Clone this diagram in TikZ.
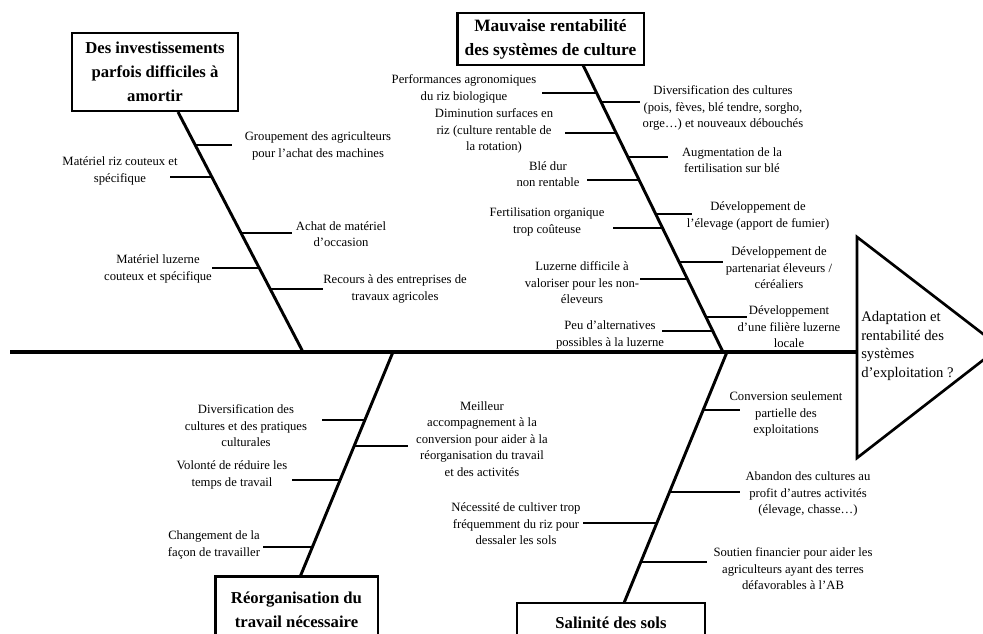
\documentclass[tikz,border=0pt]{standalone}
\usepackage{fontspec}
\setmainfont{Liberation Serif}
\usetikzlibrary{calc}
\def\fs#1#2{\fontsize{#1}{#2}\selectfont}

\begin{document}
\begin{tikzpicture}[x=0.75pt,y=-0.75pt,
		cause/.style={draw,line width=2pt,align=center,inner sep=0pt,font=\bfseries\fs{12.5}{18}},
		item/.style={align=center,inner sep=1pt,font=\fs{9.5}{12.4}},
		spine/.style={line width=3pt},
		bone/.style={line width=2.2pt},
		twig/.style={line width=1.4pt}]
			%%%%% START %%%%%
			\useasboundingbox (0,0) rectangle (983,634);
			
			% head
			\coordinate (tail) at (10,352);
			\coordinate (head) at (857,352);
			\draw[line width=2pt, line join=miter] (857,237) -- (1000,347) -- (857,458) -- cycle;
			\node[anchor=west, align=left, inner sep=0pt, font=\fs{11}{14}] (goal) at (861,346)
				{Adaptation et\\rentabilité des\\systèmes\\d'exploitation ?};
			\draw[spine] (tail) -- (head);
			
			% causes
			\node[cause, minimum width=124.5pt, minimum height=58.5pt] (inv) at (155,72)
				{Des investissements\\parfois difficiles à\\amortir};
			\node[cause, minimum width=140pt, minimum height=39pt, font=\bfseries\fs{13}{18}] (rent) at (550.5,39)
				{Mauvaise rentabilité\\des systèmes de culture};
			\node[cause, minimum width=122pt, minimum height=50pt] (trav) at (296.5,610)
				{Réorganisation du\\travail nécessaire};
			\node[cause, minimum width=141pt, minimum height=30pt] (sal) at (611,623)
				{Salinité des sols};
			
			\coordinate (b1a) at (178,112);
			\coordinate (b1b) at (303,352);
			\coordinate (b2a) at (583,65);
			\coordinate (b2b) at (723,352);
			\coordinate (b3a) at (393,352);
			\coordinate (b3b) at (300,577);
			\coordinate (b4a) at (727,352);
			\coordinate (b4b) at (624,603);
			\draw[bone] (b1a) -- (b1b);
			\draw[bone] (b2a) -- (b2b);
			\draw[bone] (b3a) -- (b3b);
			\draw[bone] (b4a) -- (b4b);
			
			% investissements
			\draw[twig] ($(b1a)!0.1375!(b1b)$) -- ++(37,0);
			\draw[twig] ($(b1a)!0.271!(b1b)$) -- ++(-42,0);
			\draw[twig] ($(b1a)!0.504!(b1b)$) -- ++(51,0);
			\draw[twig] ($(b1a)!0.65!(b1b)$) -- ++(-47,0);
			\draw[twig] ($(b1a)!0.7375!(b1b)$) -- ++(53,0);
			\node[item] (grp) at (318,146) {Groupement des agriculteurs\\pour l’achat des machines};
			\node[item] (riz) at (120,171) {Matériel riz couteux et\\spécifique};
			\node[item] (occ) at (341,234) {Achat de matériel\\d'occasion};
			\node[item] (luz) at (158,269) {Matériel luzerne\\couteux et spécifique};
			\node[item] (ent) at (395,289) {Recours à des entreprises de\\travaux agricoles};
			
			% rentabilite
			\draw[twig] ($(b2a)!0.0976!(b2b)$) -- ++(-55,0);
			\draw[twig] ($(b2a)!0.129!(b2b)$) -- ++(39,0);
			\draw[twig] ($(b2a)!0.237!(b2b)$) -- ++(-51,0);
			\draw[twig] ($(b2a)!0.3206!(b2b)$) -- ++(40,0);
			\draw[twig] ($(b2a)!0.4007!(b2b)$) -- ++(-52,0);
			\draw[twig] ($(b2a)!0.519!(b2b)$) -- ++(36,0);
			\draw[twig] ($(b2a)!0.568!(b2b)$) -- ++(-50,0);
			\draw[twig] ($(b2a)!0.686!(b2b)$) -- ++(44,0);
			\draw[twig] ($(b2a)!0.7456!(b2b)$) -- ++(-47,0);
			\draw[twig] ($(b2a)!0.878!(b2b)$) -- ++(41,0);
			\draw[twig] ($(b2a)!0.9268!(b2b)$) -- ++(-51,0);
			\node[item] (perf) at (464,89) {Performances agronomiques\\du riz biologique};
			\node[item] (div) at (723,108) {Diversification des cultures\\(pois, fèves, blé tendre, sorgho,\\orge…) et nouveaux débouchés};
			\node[item] (dim) at (494,131) {Diminution surfaces en\\riz (culture rentable de\\la rotation)};
			\node[item] (aug) at (732,160) {Augmentation de la\\fertilisation sur blé};
			\node[item] (ble) at (548,174) {Blé dur\\non rentable};
			\node[item] (elev) at (758,216) {Développement de\\l'élevage (apport de fumier)};
			\node[item] (fert) at (547,222) {Fertilisation organique\\trop coûteuse};
			\node[item] (part) at (779,268) {Développement de\\partenariat éleveurs /\\céréaliers};
			\node[item] (valo) at (582,283) {Luzerne difficile à\\valoriser pour les non-\\éleveurs};
			\node[item] (fil) at (789,327) {Développement\\d’une filière luzerne\\locale};
			\node[item] (alt) at (610,335) {Peu d’alternatives\\possibles à la luzerne};
			
			% travail
			\draw[twig] ($(b3a)!0.302!(b3b)$) -- ++(-43,0);
			\draw[twig] ($(b3a)!0.418!(b3b)$) -- ++(54,0);
			\draw[twig] ($(b3a)!0.569!(b3b)$) -- ++(-48,0);
			\draw[twig] ($(b3a)!0.8667!(b3b)$) -- ++(-49,0);
			\node[item] (prat) at (246,426) {Diversification des\\cultures et des pratiques\\culturales};
			\node[item] (acc) at (482,439) {Meilleur\\accompagnement à la\\conversion pour aider à la\\réorganisation du travail\\et des activités};
			\node[item] (temps) at (232,475) {Volonté de réduire les\\temps de travail};
			\node[item] (facon) at (214,545) {Changement de la\\façon de travailler};
			
			% salinite
			\draw[twig] ($(b4a)!0.231!(b4b)$) -- ++(37,0);
			\draw[twig] ($(b4a)!0.558!(b4b)$) -- ++(70,0);
			\draw[twig] ($(b4a)!0.681!(b4b)$) -- ++(-74,0);
			\draw[twig] ($(b4a)!0.837!(b4b)$) -- ++(66,0);
			\node[item] (conv) at (786,414) {Conversion seulement\\partielle des\\exploitations};
			\node[item] (aban) at (808,494) {Abandon des cultures au\\profit d’autres activités\\(élevage, chasse…)};
			\node[item] (dess) at (516,524) {Nécessité de cultiver trop\\fréquemment du riz pour\\dessaler les sols};
			\node[item] (sout) at (793,569) {Soutien financier pour aider les\\agriculteurs ayant des terres\\défavorables à l’AB};
			%%%%% END %%%%%
		\end{tikzpicture}
\end{document}
